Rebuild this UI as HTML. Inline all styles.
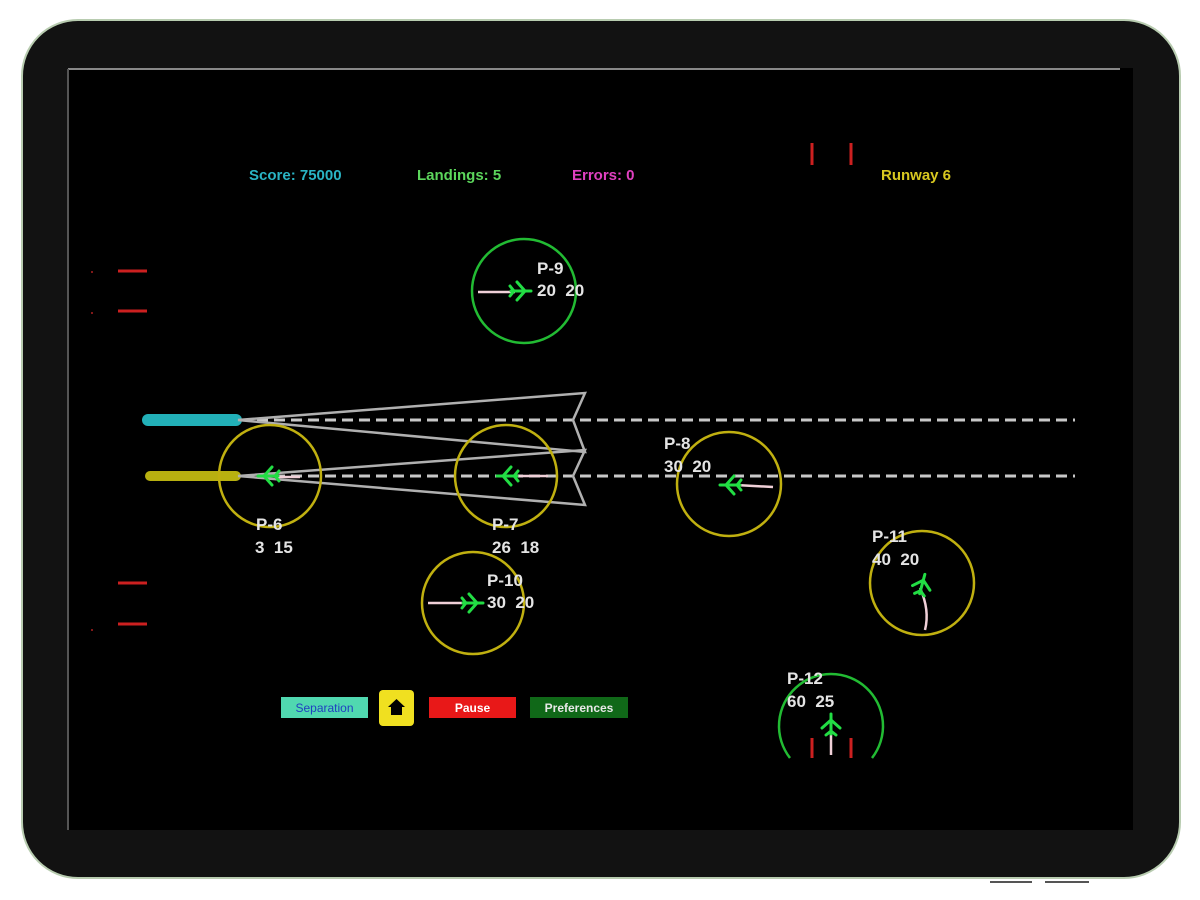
<!DOCTYPE html>
<html><head><meta charset="utf-8"><style>
html,body{margin:0;padding:0;background:#fff;width:1200px;height:900px;overflow:hidden}
svg{display:block}
text{font-family:"Liberation Sans",sans-serif;white-space:pre}
</style></head><body>
<svg width="1200" height="900" viewBox="0 0 1200 900">
<defs>
<g id="pl" stroke="#22dd44" stroke-width="3" fill="none" stroke-linecap="round">
<path d="M11,0 L-9,0 M5,0 L-3,-9 M5,0 L-3,9 M-6,0 L-10,-5 M-6,0 L-10,5"/>
</g>
</defs>
<rect x="22" y="20" width="1158" height="858" rx="56" fill="#121212" stroke="#b8ccb0" stroke-width="2"/>
<rect x="68" y="68" width="1065" height="762" fill="#000"/>
<line x1="68" y1="69" x2="1120" y2="69" stroke="#888" stroke-width="2"/>
<line x1="68" y1="69" x2="68" y2="830" stroke="#555" stroke-width="2"/>
<line x1="990" y1="882" x2="1032" y2="882" stroke="#555" stroke-width="2"/>
<line x1="1045" y1="882" x2="1089" y2="882" stroke="#555" stroke-width="2"/>

<g font-size="15" font-weight="bold">
<text x="249" y="180" fill="#2ab4c4">Score: 75000</text>
<text x="417" y="180" fill="#5cd65c">Landings: 5</text>
<text x="572" y="180" fill="#e040c0">Errors: 0</text>
<text x="881" y="180" fill="#d8c820">Runway 6</text>
</g>
<g stroke="#cc2020" stroke-width="3">
<line x1="812" y1="143" x2="812" y2="165"/><line x1="851" y1="143" x2="851" y2="165"/>
<line x1="118" y1="271" x2="147" y2="271"/><line x1="118" y1="311" x2="147" y2="311"/>
<line x1="118" y1="583" x2="147" y2="583"/><line x1="118" y1="624" x2="147" y2="624"/>
<line x1="812" y1="738" x2="812" y2="758"/><line x1="851" y1="738" x2="851" y2="758"/>
</g>
<g fill="#aa2020"><circle cx="92" cy="272" r="1"/><circle cx="92" cy="313" r="1"/><circle cx="92" cy="630" r="1"/></g>

<line x1="148" y1="420" x2="236" y2="420" stroke="#22b0b8" stroke-width="12" stroke-linecap="round"/>
<line x1="150" y1="476" x2="236" y2="476" stroke="#b8b010" stroke-width="10" stroke-linecap="round"/>
<g stroke="#c8c8c8" stroke-width="3" stroke-dasharray="11,6">
<line x1="240" y1="420" x2="1075" y2="420"/>
<line x1="240" y1="476" x2="1075" y2="476"/>
</g>
<g stroke="#b0b0b0" stroke-width="2.5" fill="none">
<path d="M238,420 L585,393 L573,420 L585,452 Z"/>
<path d="M238,476 L585,450 L573,476 L585,505 Z"/>
</g>

<g fill="none" stroke-width="2.5">
<circle cx="524" cy="291" r="52" stroke="#22bb33"/>
<circle cx="270" cy="476" r="51" stroke="#c0b010"/>
<circle cx="506" cy="476" r="51" stroke="#c0b010"/>
<circle cx="729" cy="484" r="52" stroke="#c0b010"/>
<circle cx="473" cy="603" r="51" stroke="#c0b010"/>
<circle cx="922" cy="583" r="52" stroke="#c0b010"/>
<path d="M790,758 A52,52 0 1 1 872,758" stroke="#22bb33"/>
</g>

<g stroke="#f0d0d8" stroke-width="2.5" fill="none">
<line x1="478" y1="292" x2="515" y2="292"/>
<line x1="276" y1="477" x2="300" y2="477"/>
<line x1="514" y1="476" x2="548" y2="476"/>
<line x1="736" y1="485" x2="773" y2="487"/>
<line x1="428" y1="603" x2="466" y2="603"/>
<path d="M925,630 Q930,610 920,588"/>
<line x1="831" y1="728" x2="831" y2="755"/>
</g>
<use href="#pl" transform="translate(520,291)"/>
<use href="#pl" transform="translate(269,476) rotate(180)"/>
<use href="#pl" transform="translate(508,476) rotate(180)"/>
<use href="#pl" transform="translate(731,485) rotate(180)"/>
<use href="#pl" transform="translate(472,603)"/>
<use href="#pl" transform="translate(922,585) rotate(-75)"/>
<use href="#pl" transform="translate(831,725) rotate(-90)"/>

<g font-size="17" font-weight="bold" fill="#e4e4e4">
<text x="537" y="274">P-9</text><text x="537" y="296">20  20</text>
<text x="256" y="530">P-6</text><text x="255" y="553">3  15</text>
<text x="492" y="530">P-7</text><text x="492" y="553">26  18</text>
<text x="664" y="449">P-8</text><text x="664" y="472">30  20</text>
<text x="487" y="586">P-10</text><text x="487" y="608">30  20</text>
<text x="872" y="542">P-11</text><text x="872" y="565">40  20</text>
<text x="787" y="684">P-12</text><text x="787" y="707">60  25</text>
</g>

<rect x="281" y="697" width="87" height="21" fill="#50d8b0"/>
<text x="324.5" y="712" font-size="12" fill="#2040c0" text-anchor="middle">Separation</text>
<rect x="379" y="690" width="35" height="36" rx="4" fill="#f0e020"/>
<path d="M396.5,699 L388,707 L391,707 L391,715 L402,715 L402,707 L405,707 Z" fill="#000"/>
<rect x="429" y="697" width="87" height="21" fill="#e81818"/>
<text x="472.5" y="712" font-size="12" font-weight="bold" fill="#fff" text-anchor="middle">Pause</text>
<rect x="530" y="697" width="98" height="21" fill="#106818"/>
<text x="579" y="712" font-size="12" font-weight="bold" fill="#e8e8e8" text-anchor="middle">Preferences</text>
</svg>
</body></html>
